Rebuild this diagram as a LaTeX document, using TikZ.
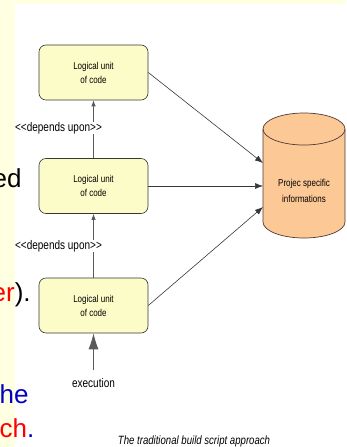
\documentclass[tikz,border=0pt]{standalone}
\usepackage{fontspec}
\setmainfont{Liberation Sans}
\newfontfamily\narrowsans[FakeStretch=0.8]{Liberation Sans}
\usetikzlibrary{arrows.meta}

\definecolor{slidebg}{RGB}{255,255,226}
\definecolor{unitfill}{RGB}{252,252,200}
\definecolor{dbfill}{RGB}{252,200,150}
\definecolor{dbedge}{RGB}{80,60,50}
\definecolor{edge}{RGB}{55,55,55}
\definecolor{linkgray}{RGB}{90,90,90}
\definecolor{slideblue}{RGB}{0,0,200}
\definecolor{slidered}{RGB}{255,0,0}

\begin{document}
\begin{tikzpicture}[x=1pt,y=-1pt,
  unit/.style={draw=edge, fill=unitfill, rounded corners=7pt,
    minimum width=109pt, minimum height=55pt, line width=0.6pt,
    inner sep=0pt, align=center,
    font=\narrowsans\fontsize{10}{14}\selectfont},
  deplabel/.style={fill=white, inner sep=0.5pt,
    font=\narrowsans\fontsize{12.5}{14}\selectfont},
  feed/.style={draw=edge, line width=0.6pt, -{Latex[length=8pt,width=6pt]}},
  dependency/.style={draw=linkgray, line width=0.7pt, -{Latex[length=6pt,width=4.5pt]}},
  trigger/.style={draw=linkgray, line width=0.8pt, -{Latex[length=16pt,width=10pt]}},
  slidetext/.style={anchor=base west, inner sep=0pt,
    font=\fontsize{26}{30}\selectfont}]

\useasboundingbox (0,0) rectangle (346,447);

% slide background strips
\fill[slidebg] (0,0) rectangle (346,4);
\fill[slidebg] (0,0) rectangle (15,447);

% fragments of the slide text
\node[slidetext] (t1) at (-7.5,187) {ed};
\node[slidetext] (t2) at (-8.5,301) {\textcolor{slidered}{er}).};
\node[slidetext, text=slideblue] (t3) at (-0.5,403) {he};
\node[slidetext] (t4) at (-0.5,437) {\textcolor{slidered}{ch}\textcolor{slideblue}{.}};

% logical units
\node[unit] (u1) at (93.5,72.5) {Logical unit\\of code};
\node[unit] (u2) at (93.5,186) {Logical unit\\of code};
\node[unit] (u3) at (93.5,305.5) {Logical unit\\of code};

% project data store
\filldraw[fill=dbfill, draw=dbedge, line width=0.7pt]
  (263,129) -- (263,222)
  arc[start angle=180, end angle=360, x radius=41pt, y radius=16pt]
  -- (345,129)
  arc[start angle=0, end angle=180, x radius=41pt, y radius=16pt] -- cycle;
\draw[draw=dbedge, line width=0.7pt] (263,129)
  arc[start angle=180, end angle=360, x radius=41pt, y radius=16pt];
\node[align=center, inner sep=0pt,
  font=\narrowsans\fontsize{10}{16}\selectfont] (db) at (304,190.5)
  {Projec specific\\informations};

\coordinate (in1) at (263,163);
\coordinate (in2) at (263,186);
\coordinate (in3) at (263,207);

\draw[feed] (u1.east) -- (in1);
\draw[feed] (u2.east) -- (in2);
\draw[feed] (u3.east) -- (in3);

% dependencies between units
\draw[dependency] (u2.north) -- (u1.south);
\draw[dependency] (u3.north) -- (u2.south);
\node[deplabel] (d1) at (58.5,128) {<<depends upon>>};
\node[deplabel] (d2) at (58.5,246) {<<depends upon>>};

% execution entry point
\node[inner sep=0pt, font=\narrowsans\fontsize{12.5}{14}\selectfont]
  (exec) at (93.5,383) {execution};
\draw[trigger] ([yshift=8pt]exec.north) -- (u3.south);

% caption
\node[anchor=base, inner sep=0pt,
  font=\narrowsans\itshape\fontsize{12}{14}\selectfont]
  (cap) at (194,444) {The traditional build script approach};
\end{tikzpicture}
\end{document}
